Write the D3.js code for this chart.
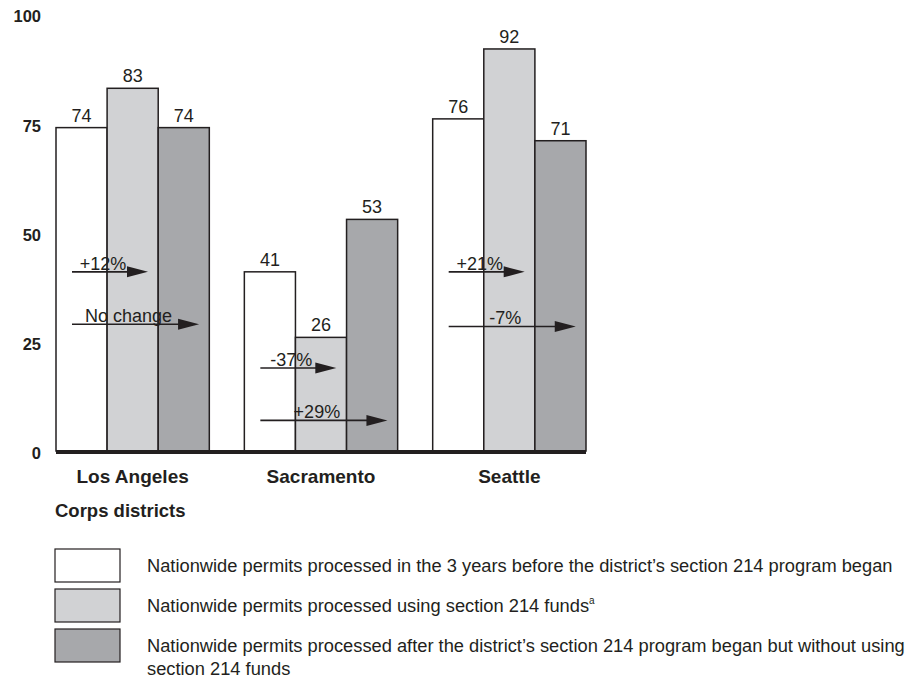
<!DOCTYPE html>
<html>
<head>
<meta charset="utf-8">
<script src="https://cdn.jsdelivr.net/npm/d3@7"></script>
<style>
  html, body { margin: 0; padding: 0; background: #ffffff; }
  svg { display: block; }
  text { font-family: "Liberation Sans", Arial, Helvetica, sans-serif; fill: #231f20; }
</style>
</head>
<body>
<svg id="chart" width="920" height="681"></svg>
<script>
// ---- data ----
const districts = ["Los Angeles", "Sacramento", "Seattle"];
const seriesKeys = ["before", "using214", "after"];
const seriesLabels = [
  ["Nationwide permits processed in the 3 years before the district\u2019s section 214 program began"],
  ["Nationwide permits processed using section 214 funds", "a"],
  ["Nationwide permits processed after the district\u2019s section 214 program began but without using", "section 214 funds"]
];
const beforeValues = [74, 41, 76];
const using214Values = [83, 26, 92];
const afterValues = [74, 53, 71];
const yTicks = [0, 25, 50, 75, 100];
const xAxisTitle = "Corps districts";

// change annotations (arrow from "before" bar to target series)
const changeLabels = ["+12%", "No change", "-37%", "+29%", "+21%", "-7%"];
const changeDistrict = [0, 0, 1, 1, 2, 2];
const changeTarget = [1, 2, 1, 2, 1, 2];
const changeLevel = [41, 29, 19, 7, 41, 28.5];

const seriesValues = [beforeValues, using214Values, afterValues];
const colors = ["#ffffff", "#d1d2d4", "#a7a8ab"];
const ink = "#231f20";

const svg = d3.select("#chart");

const x = d3.scaleBand().domain(districts).range([56, 586]).paddingInner(0.186).paddingOuter(0);
const xs = d3.scaleBand().domain(seriesKeys).range([0, x.bandwidth()]).padding(0);
const y = d3.scaleLinear().domain([0, 100]).range([451, 14]);

// y tick labels
svg.append("g").selectAll("text").data(yTicks).join("text")
  .attr("x", 41).attr("y", d => y(d) + 4)
  .attr("text-anchor", "end").attr("dominant-baseline", "middle")
  .attr("font-size", 16.5).attr("font-weight", "bold")
  .text(d => d);

// bars
const rows = [];
districts.forEach((dname, i) => {
  seriesKeys.forEach((k, j) => rows.push({ district: dname, key: k, j, value: seriesValues[j][i] }));
});

const g = svg.append("g");
g.selectAll("rect.bar").data(rows).join("rect")
  .attr("class", "bar")
  .attr("x", d => x(d.district) + xs(d.key))
  .attr("y", d => y(d.value))
  .attr("width", xs.bandwidth())
  .attr("height", d => y(0) - y(d.value))
  .attr("fill", d => colors[d.j])
  .attr("stroke", ink).attr("stroke-width", 1.5);

g.selectAll("text.val").data(rows).join("text")
  .attr("class", "val")
  .attr("x", d => x(d.district) + xs(d.key) + xs.bandwidth() / 2)
  .attr("y", d => y(d.value) - 6)
  .attr("text-anchor", "middle")
  .attr("font-size", 18)
  .text(d => d.value);

// baseline
svg.append("line")
  .attr("x1", x.range()[0]).attr("x2", x.range()[1])
  .attr("y1", y(0) + 1).attr("y2", y(0) + 1)
  .attr("stroke", ink).attr("stroke-width", 4);

// category labels
svg.append("g").selectAll("text").data(districts).join("text")
  .attr("x", d => x(d) + x.bandwidth() / 2)
  .attr("y", 483)
  .attr("text-anchor", "middle")
  .attr("font-size", 19).attr("font-weight", "bold")
  .text(d => d);

svg.append("text")
  .attr("x", 55).attr("y", 517)
  .attr("font-size", 18.5).attr("font-weight", "bold")
  .text(xAxisTitle);

// change arrows
const arrows = svg.append("g");
changeLabels.forEach((lab, i) => {
  const dn = districts[changeDistrict[i]];
  const x0 = x(dn) + xs(seriesKeys[0]) + 16;
  const tk = seriesKeys[changeTarget[i]];
  const x1 = x(dn) + xs(tk) + xs.bandwidth() * 0.8;
  const yy = y(changeLevel[i]);
  arrows.append("line")
    .attr("x1", x0).attr("x2", x1 - 10)
    .attr("y1", yy).attr("y2", yy)
    .attr("stroke", ink).attr("stroke-width", 1.6);
  arrows.append("path")
    .attr("d", `M${x1},${yy} L${x1 - 21},${yy - 5.5} L${x1 - 21},${yy + 5.5} Z`)
    .attr("fill", ink);
  arrows.append("text")
    .attr("x", (x0 + x1) / 2 - 7)
    .attr("y", yy - 2)
    .attr("text-anchor", "middle")
    .attr("font-size", 18)
    .text(lab);
});

// legend
const legendBoxY = [549, 589, 629];
const legendTextY = [567, 607, 647];
const lg = svg.append("g");
seriesKeys.forEach((k, j) => {
  lg.append("rect")
    .attr("x", 55).attr("y", legendBoxY[j])
    .attr("width", 65).attr("height", 33)
    .attr("fill", colors[j]).attr("stroke", ink).attr("stroke-width", 1.2);
  const t = lg.append("text")
    .attr("x", 147).attr("y", legendTextY[j])
    .attr("dominant-baseline", "middle")
    .attr("font-size", 18.3);
  if (j === 1) {
    t.append("tspan").text(seriesLabels[j][0]);
    t.append("tspan").attr("font-size", 10).attr("dy", -6).text(seriesLabels[j][1]);
  } else {
    seriesLabels[j].forEach((line, li) => {
      t.append("tspan").attr("x", 147).attr("dy", li === 0 ? 0 : 23).text(line);
    });
  }
});
</script>
</body>
</html>
